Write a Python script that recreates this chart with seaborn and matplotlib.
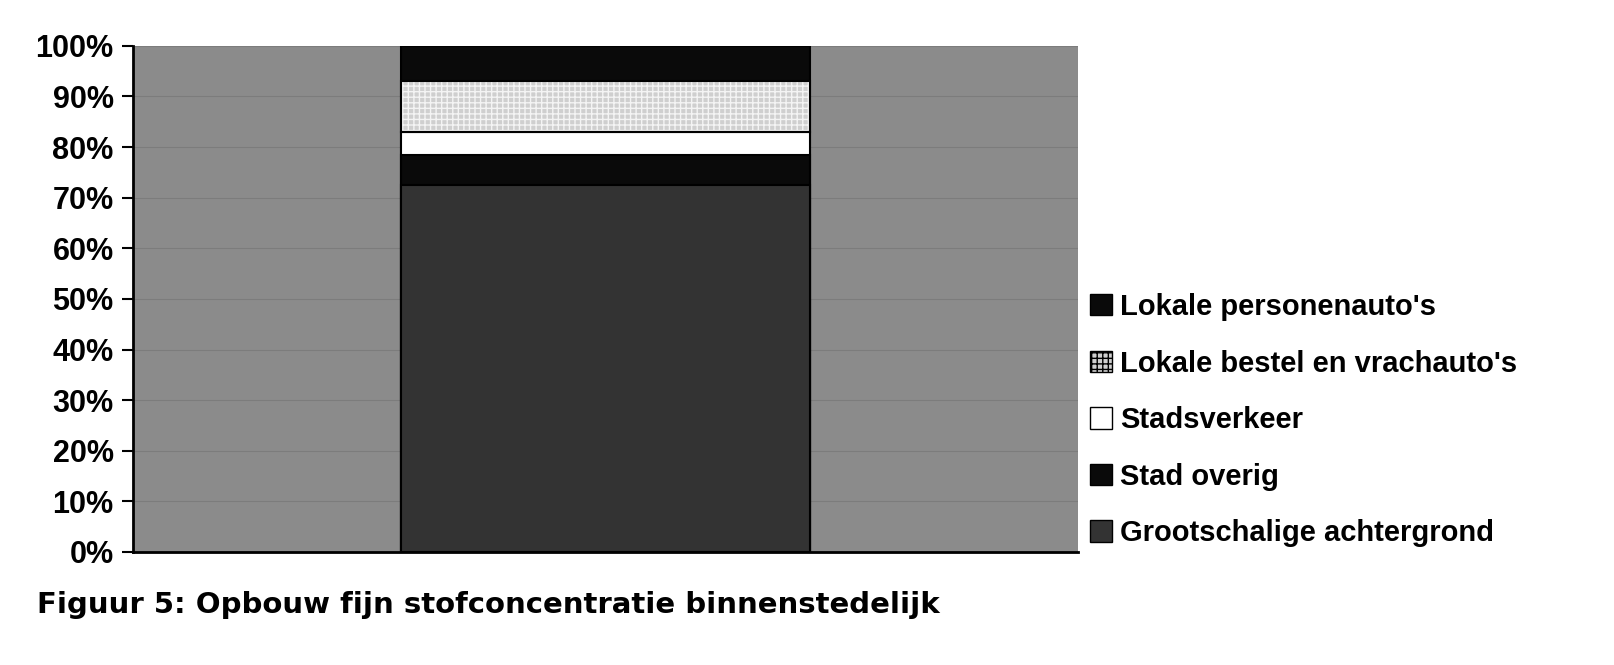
import numpy as np
import pandas as pd
from matplotlib import pyplot as plt
from matplotlib.patches import Patch
from matplotlib.ticker import PercentFormatter
import seaborn as sns

# data (fractions of total, bottom to top)
sources = ["Grootschalige achtergrond", "Stad overig", "Stadsverkeer",
           "Lokale bestel en vrachauto's", "Lokale personenauto's"]
shares = [0.725, 0.06, 0.045, 0.10, 0.07]
category = ["binnenstedelijk"]

colors = ["#333333", "#0a0a0a", "#ffffff", "#cfcfcf", "#0a0a0a"]
hatches = [None, None, None, "+++", None]

sns.set_theme(style="white")
plt.rcParams["font.family"] = ["Liberation Sans", "DejaVu Sans"]
plt.rcParams["text.color"] = "black"
plt.rcParams["ytick.color"] = "black"

df = pd.DataFrame({"bron": sources, "aandeel": shares})
df["cat"] = category[0]
df["top"] = df["aandeel"].cumsum()

fig = plt.figure(figsize=(16.14, 6.65), dpi=100)
ax = fig.add_axes([0.0824, 0.170, 0.5856, 0.761])
ax.set_facecolor("#8b8b8b")

# stacked bar: draw cumulative tops from the highest down
for i in range(len(df) - 1, -1, -1):
    row = df.iloc[[i]]
    sns.barplot(data=row, x="cat", y="top", color=colors[i], width=0.432,
                edgecolor="black", linewidth=1.5, ax=ax, saturation=1)
    ax.patches[-1].set_facecolor(colors[i])
    if hatches[i]:
        ax.patches[-1].set_hatch(hatches[i])
        ax.patches[-1].set_edgecolor("#f4f4f4")
        ax.patches[-1].set_linewidth(0)

# redraw thin black borders around the hatched segment
ax.bar(0, df["aandeel"][3], bottom=df["top"][2], width=0.432, fill=False,
       edgecolor="black", linewidth=1.5, zorder=3)

ax.set_xlim(-0.5, 0.5)
ax.set_ylim(0, 1)
ax.set_yticks(np.arange(0, 1.01, 0.1))
ax.yaxis.set_major_formatter(PercentFormatter(1.0, decimals=0))
ax.yaxis.grid(True, color="#7c7c7c", linewidth=0.8)
ax.set_axisbelow(True)
ax.set_xticks([])
ax.set_xlabel("")
ax.set_ylabel("")
ax.tick_params(axis="y", left=True, length=8, width=1.5, color="black",
               labelsize=22, pad=6, labelcolor="black")
for lab in ax.get_yticklabels():
    lab.set_fontweight("bold")
for s in ["top", "right"]:
    ax.spines[s].set_visible(False)
for s in ["left", "bottom"]:
    ax.spines[s].set_color("black")
    ax.spines[s].set_linewidth(2)

handles = []
for i in range(len(df) - 1, -1, -1):
    handles.append(Patch(facecolor=colors[i], edgecolor="black",
                         hatch=hatches[i], label=sources[i]))
leg = fig.legend(handles=handles, loc="upper left",
                 bbox_to_anchor=(0.668, 0.577), frameon=False,
                 prop={"size": 21, "weight": "bold"},
                 handlelength=0.75, handleheight=0.75, handletextpad=0.3,
                 labelspacing=0.98, borderaxespad=0)
for t in leg.get_texts():
    t.set_color("black")

fig.text(0.023, 0.09, "Figuur 5: Opbouw fijn stofconcentratie binnenstedelijk",
         fontsize=21, fontweight="bold", family=["DejaVu Sans"],
         color="black", va="center", ha="left")

fig.savefig("out.png", dpi=100, facecolor="white")
